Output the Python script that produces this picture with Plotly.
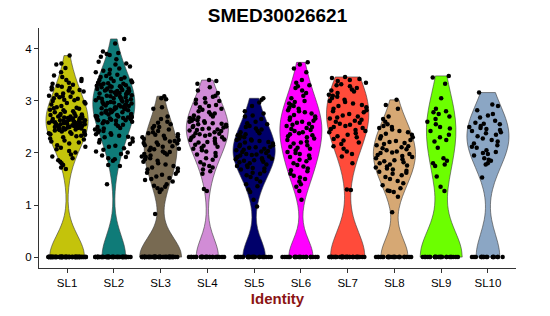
import numpy as np
import plotly.graph_objects as go

categories = ["SL1", "SL2", "SL3", "SL4", "SL5", "SL6", "SL7", "SL8", "SL9", "SL10"]
colors = ["#C4C30B", "#0F7B78", "#786A52", "#D18CD6", "#00006A", "#FF00FF",
          "#FF4B3A", "#D6A874", "#6CFF00", "#8BA6C4"]

# number of cells with zero expression per identity
zero_counts = [80, 55, 57, 27, 26, 21, 36, 25, 26, 17]

# non-zero expression values per identity
SL1 = [3.87, 3.72, 3.70, 3.63, 3.55, 3.49, 3.46, 3.42, 3.40, 3.38, 3.35, 3.33, 3.31, 3.29,
       3.27, 3.25, 3.22, 3.20, 3.18, 3.16, 3.14, 3.12, 3.10, 3.08, 3.07, 3.05, 3.04, 3.02,
       3.00, 2.98, 2.95, 2.93, 2.90, 2.88, 2.86, 2.85, 2.83, 2.82, 2.80, 2.79, 2.78, 2.76,
       2.75, 2.74, 2.72, 2.71, 2.70, 2.69, 2.68, 2.67, 2.66, 2.65, 2.65, 2.64, 2.63, 2.62,
       2.62, 2.61, 2.60, 2.60, 2.59, 2.58, 2.58, 2.57, 2.56, 2.56, 2.55, 2.55, 2.54, 2.53,
       2.53, 2.52, 2.52, 2.51, 2.50, 2.50, 2.49, 2.48, 2.48, 2.47, 2.46, 2.46, 2.45, 2.44,
       2.43, 2.42, 2.41, 2.40, 2.39, 2.38, 2.37, 2.36, 2.35, 2.33, 2.32, 2.30, 2.28, 2.26,
       2.24, 2.22, 2.20, 2.18, 2.15, 2.12, 2.10, 2.07, 2.04, 2.01, 1.97, 1.93, 1.90, 1.86,
       1.83, 1.80, 1.77, 1.72, 1.69, 2.61, 2.58, 2.66, 2.54, 2.49, 2.63, 2.57, 2.70, 2.45,
       2.52, 2.59, 3.21, 3.09, 3.01, 2.96, 3.26, 2.87, 2.73, 2.68, 2.51, 2.47]
SL2 = [4.19, 4.10, 3.95, 3.92, 3.90, 3.88, 3.85, 3.80, 3.75, 3.72, 3.70, 3.66, 3.62, 3.60,
       3.58, 3.55, 3.52, 3.50, 3.48, 3.46, 3.45, 3.43, 3.42, 3.40, 3.39, 3.38, 3.36, 3.35,
       3.34, 3.33, 3.31, 3.30, 3.29, 3.28, 3.27, 3.26, 3.25, 3.24, 3.23, 3.22, 3.21, 3.20,
       3.19, 3.18, 3.17, 3.16, 3.15, 3.14, 3.13, 3.12, 3.11, 3.10, 3.09, 3.08, 3.07, 3.06,
       3.05, 3.04, 3.03, 3.02, 3.01, 3.00, 2.99, 2.98, 2.97, 2.96, 2.95, 2.94, 2.93, 2.92,
       2.91, 2.90, 2.89, 2.88, 2.87, 2.86, 2.85, 2.84, 2.83, 2.82, 2.81, 2.80, 2.79, 2.78,
       2.77, 2.76, 2.75, 2.74, 2.73, 2.72, 2.71, 2.70, 2.69, 2.68, 2.67, 2.66, 2.65, 2.64,
       2.63, 2.62, 2.61, 2.60, 2.59, 2.57, 2.55, 2.54, 2.52, 2.50, 2.48, 2.47, 2.45, 2.43,
       2.42, 2.40, 2.38, 2.36, 2.35, 2.33, 2.31, 2.30, 2.28, 2.25, 2.22, 2.20, 2.17, 2.14,
       2.12, 2.09, 2.06, 2.03, 2.01, 1.98, 1.95, 1.92, 1.90, 1.88, 1.85, 1.77, 1.75, 1.40,
       3.28, 3.24, 3.15, 3.05, 2.98, 2.92, 2.84, 2.78, 2.70, 2.63, 3.33, 3.19, 2.88, 2.66]
SL3 = [3.09, 3.05, 3.03, 2.88, 2.85, 2.70, 2.65, 2.60, 2.58, 2.55, 2.52, 2.50, 2.48, 2.45,
       2.42, 2.40, 2.38, 2.36, 2.35, 2.33, 2.31, 2.30, 2.28, 2.27, 2.25, 2.23, 2.22, 2.20,
       2.19, 2.18, 2.16, 2.15, 2.13, 2.12, 2.10, 2.08, 2.07, 2.05, 2.03, 2.02, 2.00, 1.98,
       1.97, 1.95, 1.93, 1.92, 1.90, 1.88, 1.85, 1.83, 1.80, 1.78, 1.75, 1.72, 1.70, 1.68,
       1.65, 1.62, 1.60, 1.58, 1.55, 1.52, 1.50, 1.48, 1.45, 1.40, 1.37, 1.35, 1.32, 1.30,
       1.25, 0.83]
SL4 = [3.40, 3.38, 3.33, 3.26, 3.20, 3.15, 3.10, 3.08, 3.05, 3.02, 3.00, 2.97, 2.95, 2.92,
       2.90, 2.88, 2.85, 2.83, 2.80, 2.78, 2.76, 2.74, 2.72, 2.70, 2.68, 2.67, 2.65, 2.63,
       2.62, 2.60, 2.58, 2.57, 2.55, 2.54, 2.52, 2.50, 2.49, 2.47, 2.46, 2.45, 2.43, 2.42,
       2.40, 2.38, 2.37, 2.35, 2.33, 2.32, 2.30, 2.28, 2.26, 2.25, 2.23, 2.21, 2.20, 2.18,
       2.16, 2.14, 2.12, 2.10, 2.08, 2.05, 2.03, 2.00, 1.97, 1.94, 1.90, 1.87, 1.82, 1.78,
       1.75, 1.72, 1.68, 1.65, 1.60, 1.31, 1.27, 2.56, 2.44, 2.61, 2.51, 2.36, 2.29]
SL5 = [3.05, 3.02, 2.97, 2.90, 2.80, 2.76, 2.72, 2.70, 2.65, 2.60, 2.57, 2.55, 2.52, 2.50,
       2.47, 2.45, 2.42, 2.40, 2.38, 2.36, 2.34, 2.32, 2.30, 2.28, 2.26, 2.25, 2.23, 2.21,
       2.20, 2.18, 2.16, 2.15, 2.13, 2.11, 2.10, 2.08, 2.06, 2.05, 2.03, 2.02, 2.00, 1.98,
       1.97, 1.95, 1.93, 1.92, 1.90, 1.89, 1.87, 1.86, 1.85, 1.83, 1.82, 1.80, 1.78, 1.76,
       1.75, 1.73, 1.71, 1.70, 1.68, 1.65, 1.62, 1.60, 1.57, 1.54, 1.50, 1.45, 1.40, 1.36,
       1.30, 1.25, 1.10, 0.97, 2.04, 1.96, 2.12, 1.88, 2.24]
SL6 = [3.74, 3.70, 3.62, 3.55, 3.40, 3.35, 3.30, 3.28, 3.25, 3.20, 3.15, 3.10, 3.05, 3.00,
       2.98, 2.95, 2.92, 2.90, 2.87, 2.85, 2.82, 2.80, 2.78, 2.76, 2.73, 2.70, 2.68, 2.66,
       2.64, 2.62, 2.60, 2.58, 2.56, 2.54, 2.52, 2.50, 2.48, 2.46, 2.44, 2.42, 2.40, 2.38,
       2.36, 2.34, 2.32, 2.30, 2.28, 2.25, 2.22, 2.20, 2.18, 2.15, 2.12, 2.10, 2.08, 2.05,
       2.02, 2.00, 1.98, 1.95, 1.92, 1.90, 1.87, 1.84, 1.80, 1.77, 1.74, 1.70, 1.67, 1.65,
       1.60, 1.56, 1.53, 1.50, 1.45, 1.40, 1.35, 1.27, 1.10]
SL7 = [3.46, 3.44, 3.42, 3.40, 3.38, 3.35, 3.32, 3.30, 3.28, 3.25, 3.22, 3.20, 3.18, 3.15,
       3.12, 3.10, 3.08, 3.05, 3.02, 3.00, 2.98, 2.95, 2.92, 2.90, 2.88, 2.85, 2.82, 2.80,
       2.78, 2.75, 2.72, 2.70, 2.68, 2.66, 2.64, 2.62, 2.60, 2.58, 2.56, 2.54, 2.52, 2.50,
       2.48, 2.46, 2.44, 2.42, 2.40, 2.38, 2.35, 2.32, 2.30, 2.27, 2.24, 2.20, 2.17, 2.13,
       2.08, 2.03, 1.98, 1.93, 1.80, 1.30, 1.29]
SL8 = [3.02, 2.92, 2.85, 2.70, 2.65, 2.60, 2.55, 2.52, 2.50, 2.48, 2.45, 2.42, 2.40, 2.37,
       2.35, 2.32, 2.30, 2.28, 2.25, 2.23, 2.21, 2.19, 2.17, 2.15, 2.13, 2.11, 2.09, 2.07,
       2.05, 2.03, 2.01, 2.00, 1.98, 1.96, 1.94, 1.92, 1.90, 1.88, 1.86, 1.84, 1.82, 1.80,
       1.78, 1.76, 1.74, 1.72, 1.70, 1.68, 1.66, 1.64, 1.62, 1.60, 1.57, 1.54, 1.50, 1.46,
       1.42, 1.38, 1.32, 1.28, 1.27, 1.25, 1.16, 0.86]
SL9 = [3.48, 3.45, 3.33, 3.05, 2.85, 2.80, 2.78, 2.75, 2.70, 2.65, 2.60, 2.55, 2.50, 2.47,
       2.42, 2.35, 2.30, 2.25, 2.22, 2.10, 1.90, 1.85, 1.80, 1.78, 1.75, 1.55, 1.35, 1.27]
SL10 = [3.16, 2.93, 2.90, 2.82, 2.75, 2.72, 2.68, 2.62, 2.58, 2.56, 2.55, 2.52, 2.50, 2.48,
        2.46, 2.44, 2.42, 2.40, 2.38, 2.35, 2.32, 2.28, 2.25, 2.22, 2.18, 2.15, 2.12, 2.10,
        2.05, 2.02, 2.00, 1.98, 1.95, 1.90, 1.87, 1.85, 1.80, 1.78, 1.53]

nonzero = [SL1, SL2, SL3, SL4, SL5, SL6, SL7, SL8, SL9, SL10]

y_ticks = [0, 1, 2, 3, 4]
title_text = "SMED30026621"
x_title = "Identity"


def nrd0(v):
    v = np.asarray(v, dtype=float)
    sd = np.std(v, ddof=1)
    q75, q25 = np.percentile(v, [75, 25])
    lo = min(sd, (q75 - q25) / 1.34)
    if lo <= 0:
        lo = sd
    return 0.9 * lo * len(v) ** (-0.2)


fig = go.Figure()
for cat, col, nz, vals in zip(categories, colors, zero_counts, nonzero):
    y = [0.0] * nz + list(vals)
    fig.add_trace(go.Violin(
        x=[cat] * len(y), y=y, name=cat,
        fillcolor=col, opacity=1,
        line=dict(color="#3a3a3a", width=0.6),
        points="all", pointpos=0, jitter=0.9,
        marker=dict(color="black", size=4.5, line=dict(width=0)),
        spanmode="hard", scalemode="width", width=0.9,
        bandwidth=nrd0(y),
        box_visible=False, meanline_visible=False,
        showlegend=False, hoverinfo="skip",
    ))

fig.update_layout(
    width=550, height=316,
    margin=dict(l=39, r=34, t=28, b=45),
    paper_bgcolor="white", plot_bgcolor="white",
    violinmode="overlay",
    font=dict(family="Liberation Sans, Arial, sans-serif", color="black"),
    title=dict(text="<b>" + title_text + "</b>", x=0.5, xref="paper", xanchor="center",
               y=1 - 15 / 316, yref="container", yanchor="middle",
               font=dict(size=19, color="black")),
    xaxis=dict(
        type="category", categoryorder="array", categoryarray=categories,
        range=[-0.6, 9.6],
        showline=True, linecolor="#333333", linewidth=1.1,
        ticks="outside", ticklen=4, tickcolor="#333333", tickwidth=1.1,
        showgrid=False, zeroline=False,
        tickfont=dict(size=11.5, color="black"),
        title=dict(text="<b>" + x_title + "</b>", font=dict(size=15, color="#8B1414"), standoff=5),
    ),
    yaxis=dict(
        range=[-0.2095, 4.40],
        tickvals=y_ticks, ticktext=[str(t) for t in y_ticks],
        showline=True, linecolor="#333333", linewidth=1.1,
        ticks="outside", ticklen=4, tickcolor="#333333", tickwidth=1.1,
        showgrid=False, zeroline=False,
        tickfont=dict(size=11.5, color="black"),
    ),
)

fig.write_html("out.html")
